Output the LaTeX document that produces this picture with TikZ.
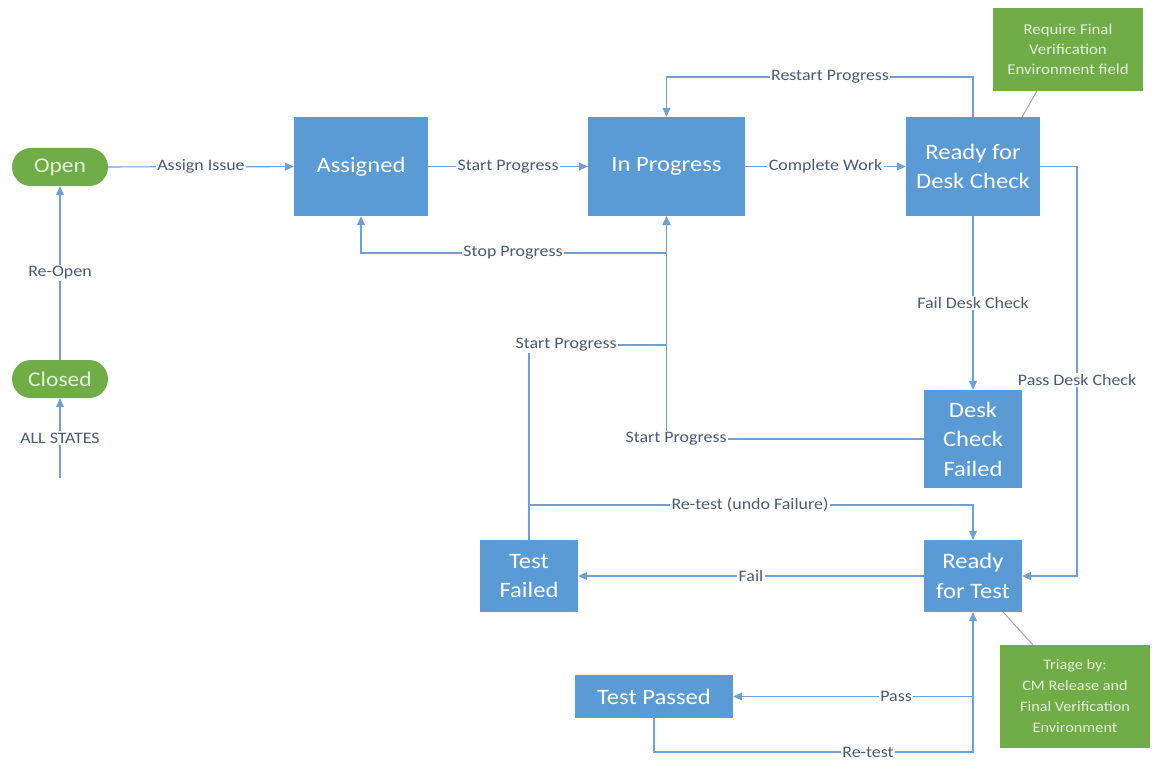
\documentclass[tikz,border=0pt]{standalone}
\usepackage{fontspec}
\setmainfont{Carlito}[FakeStretch=1.12]
\usetikzlibrary{positioning,arrows.meta}
\definecolor{stateblue}{HTML}{5B9BD5}
\definecolor{flowblue}{HTML}{6E9FD6}
\definecolor{labgrey}{HTML}{4A5A75}
\definecolor{termgreen}{HTML}{70AD47}
\definecolor{notetext}{HTML}{E2EFDA}
\definecolor{pinline}{HTML}{A3A7AB}

\begin{document}
\begin{tikzpicture}[x=1pt,y=-1pt,
  state/.style={fill=stateblue,text=white,align=center,inner sep=0pt,font=\fontsize{22}{29.5}\selectfont},
  term/.style={fill=termgreen,text=notetext,rounded corners=19pt,minimum width=96pt,minimum height=38pt,inner sep=0pt,font=\fontsize{21}{24}\selectfont},
  note/.style={fill=termgreen,text=notetext,align=center,inner sep=0pt,minimum width=150pt},
  flow/.style={draw=flowblue,line width=1.2pt,-{Triangle[length=9pt,width=8pt]}},
  lab/.style={fill=white,text=labgrey,inner sep=1.5pt,font=\fontsize{16}{18}\selectfont},
  pin/.style={draw=pinline,line width=1pt}]
\useasboundingbox (0,0) rectangle (1155,762);
% terminal states (green pills)
\node[term] (open) at (60,167) {Open};
\node[term] (closed) at (60,379) {Closed};
% workflow states (blue boxes), pixel positions of the screen shot
\node[state,minimum width=134pt,minimum height=99pt] (asg) at (361,166.5) {Assigned};
\node[state,minimum width=157pt,minimum height=99pt] (ipr) at (666.5,166.5) {In Progress};
\node[state,minimum width=134pt,minimum height=99pt] (rdc) at (973,166.5) {Ready for\\Desk Check};
\node[state,minimum width=98pt,minimum height=98pt] (dcf) at (973,439) {Desk\\Check\\Failed};
\node[state,minimum width=98pt,minimum height=72pt] (rft) at (973,576) {Ready\\for Test};
\node[state,minimum width=98pt,minimum height=72pt] (tfl) at (529,576) {Test\\Failed};
\node[state,minimum width=158pt,minimum height=43pt] (tps) at (654,696.5) {Test Passed};
% notes
\node[note,minimum height=83pt,font=\fontsize{15}{20}\selectfont] (nt1) at (1068,49.5) {Require Final\\Verification\\Environment field};
\node[note,minimum height=103pt,font=\fontsize{14.5}{21}\selectfont] (nt2) at (1075,696.5) {Triage by:\\CM Release and\\Final Verification\\Environment};
\draw[pin] ([xshift=44pt]nt1.south west) -- ([xshift=-18pt]rdc.north east);
\draw[pin] ([xshift=-19pt]rft.south east) -- ([xshift=33pt]nt2.north west);
% bend points of the routed connectors
\coordinate (allS) at (60,478);
\coordinate (rstP) at (830,77);
\coordinate (stopP) at (513,253);
\coordinate (spTF) at (566,345);
\coordinate (pdcP) at (1077,380);
\coordinate (undoP) at (750,505);
\coordinate (retP) at (868,752);
% straight connectors
\draw[flow] (open) -- (asg) node[lab,midway] (lbAssign) {Assign Issue};
\draw[flow] (closed) -- (open) node[lab,midway] (lbReopen) {Re-Open};
\draw[flow] (allS) -- (closed.south) node[lab,midway] (lbAll) {ALL STATES};
\draw[flow] (asg) -- (ipr) node[lab,midway] (lbStart) {Start Progress};
\draw[flow] (ipr) -- (rdc) node[lab,midway] (lbComplete) {Complete Work};
\draw[flow] (rdc) -- (dcf) node[lab,midway] (lbFailDC) {Fail Desk Check};
\draw[flow] (rft) -- (tfl) node[lab,midway] (lbFail) {Fail};
% routed connectors
\draw[flow] (rdc.north) |- (rstP) -| (ipr.north);
\draw[flow] (tfl.north) |- (spTF) -| (ipr.south);
\draw[flow] (stopP -| ipr.south) -| (asg.south);
\draw[flow] (dcf.west) -| (ipr.south);
\draw[flow] (rdc.east) -| (pdcP) |- (rft.east);
\draw[flow] (undoP -| tfl.north) -- (undoP) -| (rft.north);
\draw[flow] (tps.south) |- (retP) -| (rft.south);
\draw[flow] (tps.east -| rft.south) -- (tps.east);
% labels on the routed connectors
\node[lab] (lbRestart) at (rstP) {Restart Progress};
\node[lab] (lbStop) at (stopP) {Stop Progress};
\node[lab] (lbSpTF) at (spTF) {Start Progress};
\node[lab] (lbSpDC) at (676,439) {Start Progress};
\node[lab] (lbPassDC) at (pdcP) {Pass Desk Check};
\node[lab] (lbUndo) at (undoP) {Re-test (undo Failure)};
\node[lab] (lbPass) at (896,696) {Pass};
\node[lab] (lbRetest) at (retP) {Re-test};
\end{tikzpicture}
\end{document}
